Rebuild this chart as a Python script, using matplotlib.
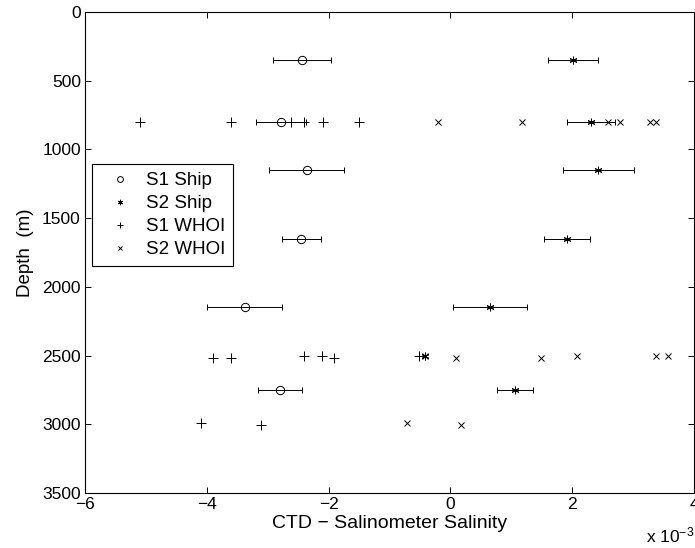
import numpy as np
import matplotlib
matplotlib.use("Agg")
import matplotlib.pyplot as plt

plt.rcParams['font.family'] = ['Liberation Sans', 'DejaVu Sans']
plt.rcParams['mathtext.fontset'] = 'custom'
plt.rcParams['mathtext.rm'] = 'Liberation Sans'
plt.rcParams['mathtext.it'] = 'Liberation Sans'

# salinity differences in units of 1e-3
ship_depth = [350, 800, 1150, 1650, 2150, 2750]
s1_ship = [-2.44, -2.78, -2.36, -2.45, -3.38, -2.80]
s1_ship_err = [0.48, 0.41, 0.62, 0.32, 0.61, 0.36]

s2_ship_depth = [350, 800, 1150, 1650, 2150, 2500, 2750]
s2_ship = [2.01, 2.31, 2.43, 1.92, 0.65, -0.41, 1.06]
s2_ship_err = [0.41, 0.39, 0.58, 0.38, 0.60, np.nan, 0.30]

s1_whoi = [-5.10, -3.60, -2.61, -2.40, -2.10, -1.50,
           -3.90, -3.60, -2.41, -2.11, -1.91, -0.52,
           -4.10, -3.11]
s1_whoi_depth = [800, 800, 800, 800, 800, 800,
                 2515, 2515, 2500, 2500, 2515, 2500,
                 2990, 3005]
s2_whoi = [-0.21, 1.18, 2.58, 2.78, 3.28, 3.38,
           -0.41, 0.09, 1.48, 2.08, 3.38, 3.58,
           -0.72, 0.18]
s2_whoi_depth = [800, 800, 800, 800, 800, 800,
                 2500, 2515, 2515, 2500, 2500, 2500,
                 2990, 3005]

fig = plt.figure(figsize=(6.95, 5.48), dpi=100)
ax = fig.add_axes([0.1223, 0.1004, 0.8763, 0.8777])

# error bars
ax.errorbar(s1_ship, ship_depth, xerr=s1_ship_err, fmt='none', ecolor='black',
            elinewidth=0.7, capsize=2.5, capthick=0.7)
ax.errorbar(s2_ship, s2_ship_depth, xerr=s2_ship_err, fmt='none', ecolor='black',
            elinewidth=0.7, capsize=2.5, capthick=0.7)

# markers
ax.plot(s1_ship, ship_depth, 'o', mfc='none', mec='black', ms=6, mew=0.7, label='S1 Ship')
ax.plot(s2_ship, s2_ship_depth, linestyle='none', marker=(6, 2, 0), mec='black', ms=5.5, mew=0.7, label='S2 Ship')
ax.plot(s1_whoi, s1_whoi_depth, '+', mec='black', ms=6.5, mew=0.7, label='S1 WHOI')
ax.plot(s2_whoi, s2_whoi_depth, 'x', mec='black', ms=4, mew=0.7, label='S2 WHOI')

ax.set_xlim(-6, 4)
ax.set_ylim(3500, 0)
ax.set_xticks(np.arange(-6, 5, 2))
ax.set_yticks(np.arange(0, 3501, 500))
ax.set_xticklabels(['\u22126', '\u22124', '\u22122', '0', '2', '4'])
ax.tick_params(direction='in', length=4, width=0.7, labelsize=12.5,
               top=True, right=True, pad=3)
for s in ax.spines.values():
    s.set_linewidth(0.8)

ax.set_xlabel('CTD \u2212 Salinometer Salinity', fontsize=14, labelpad=2)
ax.set_ylabel('Depth  (m)', fontsize=13.5, labelpad=6)
fig.text(0.9995, 0.005, r'x 10$^{\mathregular{-3}}$', fontsize=12.5, ha='right', va='bottom')

leg = ax.legend(loc='upper left', bbox_to_anchor=(0.012, 0.683), borderaxespad=0,
                fancybox=False, edgecolor='black', framealpha=1, fontsize=13.5,
                markerscale=0.7, handlelength=2.2, handletextpad=0.25,
                labelspacing=0.32, borderpad=0.4)
leg.get_frame().set_linewidth(0.8)

fig.savefig('out.png', dpi=100)
